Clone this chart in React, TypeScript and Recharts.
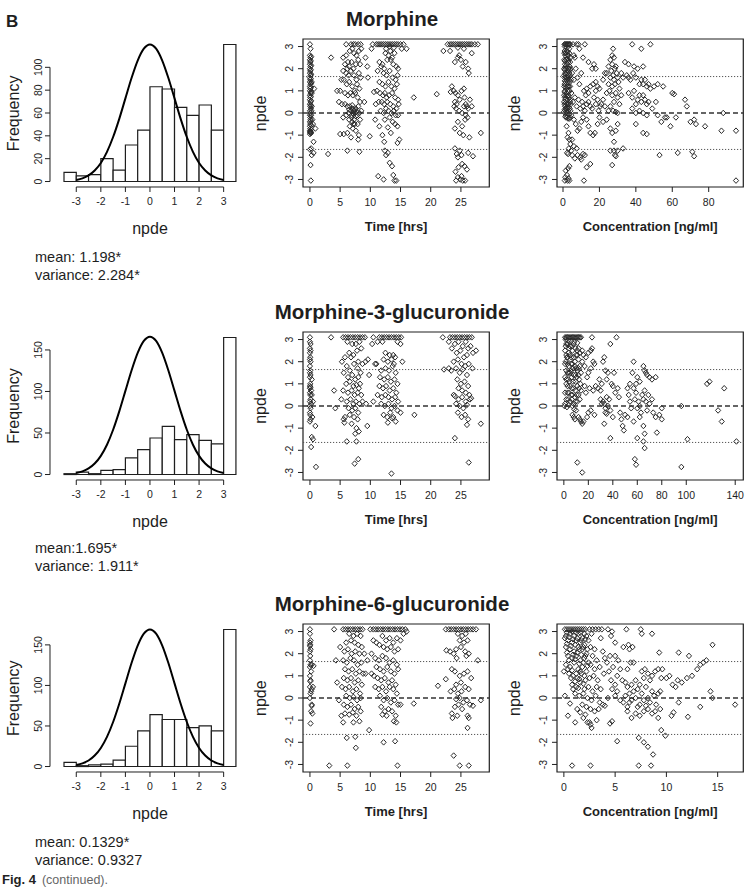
import React from 'react';
import {
  ComposedChart,
  ScatterChart,
  Scatter,
  Line,
  XAxis,
  YAxis,
  ReferenceArea,
  ReferenceLine,
} from 'recharts';

type Pt = [number, number];

const FONT = '"Liberation Sans", Arial, Helvetica, sans-serif';
const INK = '#1e1e1e';

// ---------- histogram data (bins of width 0.5, left edges) ----------
const binStarts = [-3.5, -3, -2.5, -2, -1.5, -1, -0.5, 0, 0.5, 1, 1.5, 2, 2.5, 3];
const morCounts = [8, 5, 6, 20, 10, 32, 45, 83, 81, 65, 58, 67, 45, 120];
const m3gCounts = [1, 3, 1, 5, 6, 20, 30, 44, 58, 42, 48, 41, 37, 165];
const m6gCounts = [5, 1, 2, 3, 8, 25, 44, 64, 58, 58, 48, 50, 44, 169];

// reference N(0,1) curve, scaled to each histogram
const curveX = [-3, -2.75, -2.5, -2.25, -2, -1.75, -1.5, -1.25, -1, -0.75, -0.5, -0.25, 0,
  0.25, 0.5, 0.75, 1, 1.25, 1.5, 1.75, 2, 2.25, 2.5, 2.75, 3];
const morCurve = [1.3, 2.7, 5.3, 9.6, 16.2, 26.0, 39.0, 54.9, 72.8, 90.6, 105.9, 116.3, 120,
  116.3, 105.9, 90.6, 72.8, 54.9, 39.0, 26.0, 16.2, 9.6, 5.3, 2.7, 1.3];
const m3gCurve = [1.8, 3.8, 7.3, 13.2, 22.5, 35.9, 53.9, 76.0, 100.7, 125.3, 146.5, 160.9, 166,
  160.9, 146.5, 125.3, 100.7, 76.0, 53.9, 35.9, 22.5, 13.2, 7.3, 3.8, 1.8];
const m6gCurve = [1.9, 3.9, 7.4, 13.5, 22.9, 36.6, 54.9, 77.4, 102.5, 127.6, 149.1, 163.8, 169,
  163.8, 149.1, 127.6, 102.5, 77.4, 54.9, 36.6, 22.9, 13.5, 7.4, 3.9, 1.9];

// ---------- tick labels ----------
const histTicksX = [-3, -2, -1, 0, 1, 2, 3];
const freqTicksMor = [0, 20, 40, 60, 80, 100];
const freqTicksGluc = [0, 50, 100, 150];
const npdeTicks = [-3, -2, -1, 0, 1, 2, 3];
const timeTicks = [0, 5, 10, 15, 20, 25];
const morConcTicks = [0, 20, 40, 60, 80];
const m3gConcTicks = [0, 20, 40, 60, 80, 100, 140];
const m6gConcTicks = [0, 5, 10, 15];

// ---------- npde vs time / concentration ----------
const morTime: Pt[] = [
  [0,3.1],[0.1,2.9],[0,2.6],[0.1,2.5],[0,2.4],[0.05,2.3],[0,2.2],[0.1,2.1],[0,2.0],[0.05,1.9],[0,1.8],[0.1,1.7],[0,1.6],[0.05,1.5],[0,1.4],[0.1,1.3],[0,1.2],[0.05,1.1],[0,1.0],[0.1,0.9],[0,0.8],[0.05,0.7],[0,0.6],[0.1,0.5],[0,0.4],[0.05,0.3],[0.15,0.2],[0,0.1],[0.1,0.0],[0,-0.1],[0.05,-0.2],[0.1,-0.3],[0,-0.4],[0.05,-0.5],[0,-0.6],[0.05,-0.7],[0,-0.8],[0.05,-0.85],[0.1,-0.9],[0,-0.95],[0.2,-1.6],[0,-1.65],[0.3,-1.9],[0.1,-2.35],[0.15,-3.05],[0.5,-0.5],[0.6,-1.3],[0.7,1.1],[0.9,-0.7],[0.6,-1.8],[0.3,0.9],[0.3,1.4],[0.3,0.3],[0.4,-0.3],
  [0.2,2.55],[0.15,2.35],[0.2,2.15],[0.15,1.95],[0.2,1.75],[0.15,1.55],[0.2,1.35],[0.15,1.15],[0.2,0.95],[0.15,0.75],[0.2,0.55],[0.15,0.35],[0.25,0.1],[0.2,-0.1],[0.15,-0.35],[0.2,-0.55],[0.15,-0.75],[0.2,-0.9],[0.1,-0.82],[0.05,-0.88],
  [3.5,2.5],[3,-1.85],
  [6,3.1],[6.8,3.1],[7.2,3.1],[7.5,3.1],[8,3.1],[8.4,3.1],
  [5.5,2.5],[6,2.6],[6.3,2.3],[6.6,2.8],[7,2.9],[7.3,2.7],[7.7,2.6],[8.1,2.8],[8.5,2.9],[5.8,2.2],[6.2,2.0],[6.5,2.1],[6.9,2.3],[7.2,2.0],[7.6,2.2],[8,2.4],[8.3,2.2],[5.5,1.9],[6,1.8],[6.4,1.7],[6.8,1.9],[7.3,1.7],[7.7,1.5],[8.1,1.8],[8.4,1.6],[5.6,1.5],[6.1,1.3],[6.5,1.4],[7,1.2],[7.4,1.0],[7.8,1.3],[8.2,1.1],[4.5,1.0],[5,1.0],[5.2,1.5],[5.8,0.9],[6.3,0.8],[6.7,0.9],[7.1,0.8],[7.5,0.9],[7.9,0.7],[8.3,0.5],[4.8,0.5],[5.3,0.4],[5.8,0.4],[6.2,0.3],[6.6,0.3],[7,0.2],[7.3,0.1],[7.6,0.2],[8,0.3],[8.5,0.1],[6.4,0.0],[6.9,-0.1],[7.2,-0.05],[7.5,0.0],[7.8,-0.1],[8.2,0.0],[5.5,-0.2],[6,-0.1],[6.5,-0.3],[7,-0.4],[7.4,-0.5],[7.9,-0.5],[8.3,-0.3],[6.6,-0.6],[7.1,-0.7],[7.6,-0.8],[8.1,-1.0],[8,-1.2],[6.2,-0.9],[5.6,-0.95],[5,-0.95],[6.8,-1.1],[6.2,-1.7],[8.2,-1.75],[9,0.5],[9.2,2.5],
  [6.8,0.1],[7.1,0.0],[7.4,0.15],[6.9,-0.2],[7.3,-0.3],[7.6,-0.15],[7.0,0.35],[7.7,0.05],[6.5,0.15],[7.2,-0.5],
  [9.5,2.1],[9.6,1.6],[9.9,-1.05],[10.2,2.9],[10.4,3.1],[10.6,0.95],[10.8,-0.3],[10.9,0.4],
  [11,3.1],[11.3,3.1],[11.6,3.1],[11.9,3.1],[12.2,3.1],[12.5,3.1],[12.8,3.1],[13.1,3.1],[13.4,3.1],[13.7,3.1],[14,3.1],[14.3,3.1],[14.6,3.1],[15,3.1],[15.5,3.1],[13.2,3.0],[12.6,2.9],[13.9,2.95],
  [12.5,2.7],[13,2.6],[13.3,2.8],[13.6,2.5],[14,2.7],[12.8,2.4],[13.4,2.4],[11.5,2.3],[12,2.2],[12.3,2.0],[11.8,2.1],[13.8,2.2],[14.3,2.1],[14.6,2.0],[15.2,2.9],[16,2.9],[11.2,1.9],[12.2,1.8],[12.7,1.7],[13.2,1.9],[13.7,1.6],[14.2,1.5],[14.5,1.7],[11.5,1.4],[12,1.3],[12.5,1.2],[13,1.4],[13.5,1.2],[14,1.1],[14.4,1.3],[11.1,1.0],[11.6,0.9],[12.1,0.8],[12.4,0.9],[12.7,0.7],[13.1,0.8],[13.6,0.9],[14.1,0.7],[14.6,0.6],[11.4,0.5],[11.9,0.5],[12.3,0.4],[12.8,0.5],[13.3,0.4],[13.8,0.3],[14.3,0.2],[14.7,0.4],[11.7,0.1],[12.2,0.0],[12.6,0.2],[13,0.1],[13.5,0.0],[13.9,0.1],[14.2,-0.1],[14.6,-0.1],[12.4,-0.3],[13.2,-0.2],[13.7,-0.4],[14.1,-0.5],[14.5,-0.6],[11.5,-0.6],[12,-1.0],[12.3,-1.3],[12.9,-0.65],[13.4,-0.9],[14.8,-1.2],[14.5,-1.35],[12.4,-1.7],[12.9,-1.8],[12.6,-1.9],[13.2,-2.25],[13.6,-2.4],[11.3,-2.85],[12.2,-3.0],[13.8,-2.8],[14,-3.05],[14.3,-3.05],
  [17.2,0.7],[21,0.85],[22.1,2.8],
  [22.8,3.1],[23.2,3.1],[23.5,3.1],[23.8,3.1],[24.1,3.1],[24.4,3.1],[24.7,3.1],[25,3.1],[25.3,3.1],[25.6,3.1],[25.9,3.1],[26.2,3.1],[26.5,3.1],[26.8,3.1],[27.3,3.1],[27.8,3.1],[24.5,2.95],[25.5,2.9],
  [23.2,2.8],[24,2.3],[24.5,2.5],[25,2.4],[25.3,2.1],[25.8,2.3],[26.2,2.0],[26.3,1.8],[26.8,2.7],[24.7,2.6],[23.5,1.2],[23.3,0.95],[23.8,1.0],[24.1,0.9],[24.5,0.8],[24,0.5],[24.3,0.4],[24.8,0.6],[25.1,1.0],[25.5,1.1],[25.6,0.7],[25.8,0.4],[26,0.3],[26.2,0.2],[25.5,0.3],[25.2,0.0],[24.7,0.1],[24.2,0.2],[23.9,0.3],[26.5,0.6],[26.8,0.3],[25.8,-0.1],[26.1,-0.2],[25.7,-0.3],[24.5,-0.4],[24,-0.7],[25.2,-0.6],[24.8,-0.9],[25.4,-1.0],[26.4,-1.1],[28.3,-0.9],[24,-1.6],[24.3,-1.85],[24.8,-1.7],[25.1,-1.9],[24.5,-2.0],[26.2,-1.8],[27,-1.95],[24.1,-2.65],[24.6,-2.45],[25.2,-2.3],[25.6,-2.4],[26,-2.55],[24.5,-2.9],[24.9,-3.0],[25.3,-3.05],[25.7,-3.05],[24.2,-3.05],[25.1,-2.85],
];

const morConc: Pt[] = [
  [0.8,3.1],[1.2,3.1],[1.6,3.1],[2.0,3.1],[2.4,3.1],[2.8,3.1],[3.2,3.1],[3.6,3.1],[4.0,3.1],[1,3.0],[2.2,2.95],[3.4,2.9],
  [0.9,2.8],[2.1,2.8],[3.5,2.7],[1.3,2.6],[2.6,2.6],[4.0,2.5],[0.7,2.4],[1.8,2.4],[3.1,2.4],[1.1,2.2],[2.4,2.2],[3.7,2.1],[0.6,2.0],[1.6,2.0],[2.9,2.0],[4.2,2.0],[1.2,1.8],[2.3,1.8],[3.5,1.8],[0.8,1.6],[1.9,1.6],[3.0,1.6],[4.4,1.5],[1.4,1.4],[2.6,1.4],[3.8,1.4],[0.7,1.2],[2.0,1.2],[3.2,1.2],[1.1,1.0],[2.4,1.0],[3.6,1.0],[4.6,0.9],[0.6,0.8],[1.7,0.8],[2.9,0.8],[1.3,0.6],[2.5,0.6],[3.8,0.6],[0.8,0.4],[2.0,0.4],[3.1,0.4],[4.3,0.4],[1.5,0.2],[2.6,0.2],[3.7,0.2],[0.5,0.05],[1.2,0.0],[2.2,0.0],[3.4,-0.05],[1.6,-0.2],[2.8,-0.25],[4.0,-0.2],
  [0.7,2.7],[1.5,2.7],[2.5,2.75],[3.0,2.6],[1.0,2.35],[2.2,2.45],[2.9,2.3],[3.9,2.3],[0.9,1.95],[1.4,2.1],[2.6,1.9],[3.3,2.0],[0.6,1.7],[1.5,1.75],[2.8,1.7],[3.9,1.7],[1.0,1.45],[2.2,1.5],[3.3,1.5],[0.9,1.3],[1.6,1.15],[2.7,1.2],[3.9,1.2],[0.8,0.95],[1.9,0.9],[3.1,0.95],[1.0,0.7],[2.2,0.75],[3.4,0.7],[0.6,0.5],[1.6,0.45],[2.7,0.4],[3.9,0.5],[1.1,0.3],[2.3,0.25],[3.2,0.25],[0.9,0.15],[1.8,0.05],[2.9,0.1],[4.1,0.1],[1.3,-0.15],[2.4,-0.2],[3.5,-0.25],[4.5,-0.1],
  [2,-0.6],[3,-0.9],[2.5,-1.1],[3.5,-1.2],[4,-1.4],[3.2,-1.6],[2.2,-1.8],[2.8,-1.85],[1.5,-2.6],[2.8,-2.5],[3.5,-2.4],[1.2,-2.9],[2.2,-2.8],[3,-2.95],[1.0,-3.05],[2.5,-3.05],[3.5,-3.05],
  [5.5,3.1],[6,2.6],[6.5,2.5],[7.5,3.1],[8.5,3.1],[9,2.9],[11,2.5],[12,3.1],[14,2.3],[16,2.0],[17,2.2],[18,2.0],
  [5,1.8],[6,1.5],[7,2.0],[8,1.6],[9,1.3],[10,1.8],[11.5,1.0],[12.5,0.8],[13,1.1],[14,0.9],[15,1.2],[16.5,1.3],[17,0.7],[18,1.0],[19,1.2],[20,1.1],
  [5.5,0.5],[6.5,0.7],[7.5,0.3],[8.5,0.6],[9.5,0.2],[10.5,0.5],[11,0.3],[12,0.1],[13,0.4],[14,0.5],[15,0.3],[16,0.2],[18,0.4],[19.5,0.1],[20.5,0.3],[21,0.4],
  [6,-0.3],[7,-0.5],[8,-0.8],[9,-0.7],[10,-0.4],[11,-0.2],[13,-0.3],[14,-0.6],[15,-0.9],[16.5,-1.0],[17.5,-0.9],[19,-0.5],[20,-0.2],[22,-0.4],
  [5,-1.2],[6,-1.5],[7.5,-1.6],[8,-1.9],[9.5,-2.0],[10,-2.1],[11,-1.85],[12,-1.9],[13,-2.45],[15,-2.3],[11.5,-3.05],[4.5,-1.7],[5,-1.9],[6.5,-2.05],
  [18,1.4],[19,0.6],[22,0.6],[23,0.3],
  [23,1.8],[24,1.8],[25,2.1],[26,2.4],[27,2.6],[28,2.5],[27,2.2],[28.5,2.0],[29,2.1],[26.5,1.9],[27.5,1.7],[28,1.5],[26,1.6],[25,1.3],[27,1.2],[28.5,1.3],[29.5,1.8],[30,1.6],[30.5,1.4],[31,1.1],[32,1.8],[33,1.6],[34,2.3],[35,1.7],[36,1.6],[27,0.8],[28,0.5],[29,0.9],[30,0.7],[31,0.4],[32,0.8],[25,0.1],[26,0.3],[27.5,0.1],[29,0.05],[30,0.0],[24,-0.3],[26,-0.7],[27,-0.9],[28,-1.3],[29,-0.8],[30,-0.5],[28,-1.7],[29,-1.95],[30,-1.7],[27,-2.35],[28.5,-1.9],[33,-1.6],[26,-1.7],[27.5,2.9],[25.5,1.0],[24,0.9],[22,1.5],
  [38,3.1],[43,2.9],[48,3.1],[36,2.2],[39,2.1],[41,2.0],[44,2.1],[37,1.5],[38.5,1.8],[40,1.6],[42,1.3],[43,1.5],[44,1.3],[45,1.5],[46,1.2],[47,1.3],[48,1.1],[50,1.2],[52,1.3],[55,1.2],[36,0.9],[38,0.7],[39,1.0],[40,0.4],[41,0.6],[42,0.8],[43,0.5],[44,0.8],[45,0.6],[46,0.4],[47,0.5],[49,0.2],[51,0.5],[38,0.2],[40,0.0],[42,0.1],[44,0.0],[46,-0.1],[40,-0.5],[44,-0.9],[46,-0.95],[52,-0.1],[54,-0.4],[56,-0.2],[53,-1.9],
  [57,-0.2],[59,-0.6],[60,0.9],[61,0.85],[62,-0.2],[63,-1.8],[67,0.6],[68,0.3],[70,-0.4],[72,-0.3],[73,-0.5],[71,-1.75],[72,-1.95],[78,-0.6],[88,0.0],[87,-0.8],[95,-0.8],[95,-3.05],
];

const m3gTime: Pt[] = [
  [0,3.1],[0,2.9],[0.1,2.8],[0,2.6],[0.1,2.5],[0,2.4],[0.05,2.2],[0,2.1],[0.1,2.0],[0,1.8],[0.05,1.6],[0,1.5],[0.1,1.4],[0,1.3],[0.05,1.0],[0,0.9],[0.1,0.85],[0,0.8],[0.2,0.7],[0,0.6],[0.05,0.5],[0.1,0.3],[0,0.2],[0.2,0.1],[0,0.0],[0.1,-0.1],[0,-0.3],[0.05,-0.4],[0.1,-0.6],[0,-0.7],[0.5,0.2],[0.4,-0.5],[0.9,-0.9],[0.3,-1.4],[0.5,-1.5],[0.2,-1.85],[1.0,-2.75],[0.3,0.5],[0.3,1.2],
  [3.5,3.1],[4,0.7],[4.2,-0.1],
  [5.5,3.1],[5.9,3.1],[6.3,3.1],[6.7,3.1],[7.1,3.1],[7.5,3.1],[7.9,3.1],[8.3,3.1],[8.7,3.1],[9.1,3.1],
  [6.2,2.9],[7,2.8],[7.6,2.8],[8.2,2.9],[8.5,2.6],[6.5,2.4],[7.2,2.3],[7.8,2.5],[5.8,2.2],[6.8,2.2],[8,2.0],[8.7,1.9],[5.3,2.0],[6.1,1.8],[6.6,1.6],[7.3,1.9],[7.9,1.7],[8.4,1.5],[5.6,1.5],[6.3,1.3],[7,1.4],[7.5,1.2],[8,1.3],[8.3,1.0],[6,1.0],[6.6,1.1],[7.2,0.9],[7.7,0.95],[8.1,0.8],[5.5,0.7],[6.3,0.6],[6.9,0.7],[7.4,0.5],[7.9,0.6],[8.5,0.5],[5.2,0.3],[6.1,0.2],[6.7,0.3],[7.2,0.1],[7.6,0.2],[8.2,0.1],[8.7,0.2],[6.4,-0.1],[7,-0.2],[7.5,-0.1],[8,-0.3],[5.8,-0.5],[6.6,-0.4],[7.3,-0.5],[7.9,-0.6],[5.6,-0.6],[5.7,-0.75],[6.9,-0.8],[7.7,-1.0],[8.1,-1.15],[7.5,-1.25],[6.1,-1.6],[7.7,-1.6],[7.4,-2.6],[8,-2.4],[9.2,2.0],[9.3,0.1],
  [9.6,2.1],[9.8,1.4],[9.5,-0.9],[10.5,3.1],[10.8,1.9],[10.3,2.8],[11,1.9],[11.2,2.9],[10.5,0.2],
  [11.5,3.1],[11.9,3.1],[12.3,3.1],[12.7,3.1],[13.1,3.1],[13.5,3.1],[13.9,3.1],[14.3,3.1],[14.7,3.1],[15.1,3.1],
  [12,2.9],[14.5,2.9],[15,2.8],[12.5,2.4],[13.2,2.3],[13.8,2.3],[14.1,2.2],[12.2,2.1],[12.9,2.0],[13.5,2.1],[13.9,1.9],[15.3,2.0],[11.8,1.6],[12.5,1.7],[13.1,1.6],[13.7,1.8],[14.2,1.5],[11.6,1.3],[12.3,1.2],[12.9,1.3],[13.4,1.1],[14,1.2],[14.5,1.0],[11.5,0.9],[12.1,0.8],[12.6,0.9],[13.2,0.7],[13.8,0.8],[14.3,0.6],[11.2,0.5],[11.9,0.4],[12.5,0.5],[13,0.4],[13.6,0.3],[14.1,0.4],[14.6,0.2],[11.8,0.1],[12.4,0.0],[13,0.1],[13.5,-0.1],[14,0.0],[14.5,-0.2],[15,-0.3],[12.2,-0.4],[12.8,-0.5],[13.3,-0.3],[13.8,-0.5],[14.2,-0.7],[12.9,-0.75],[13.6,-0.55],[13.5,-3.05],[17.3,-0.4],
  [22,3.1],[23.2,3.1],[23.6,3.1],[24,3.1],[24.4,3.1],[24.8,3.1],[25.2,3.1],[25.6,3.1],[26,3.1],[26.4,3.1],[26.8,3.1],[23,2.9],
  [24,2.8],[24.6,2.9],[25.3,2.7],[25.8,2.9],[26.2,2.6],[26.6,2.7],[27,2.4],[27.5,2.5],[23.5,2.6],[24.3,2.4],[24.9,2.5],[25.5,2.2],[26,2.3],[23.8,2.0],[24.5,2.1],[25.1,1.9],[25.7,1.8],[26.3,1.9],[22.2,1.65],[23,1.7],[23.4,1.6],[24.2,1.7],[24.8,1.5],[25.3,1.65],[26,1.4],[26.9,1.7],[24.4,1.2],[25,1.0],[25.6,1.1],[26.2,0.9],[24.6,0.8],[25.2,0.7],[25.8,0.6],[26.4,0.5],[24,0.45],[24.6,0.3],[25.2,0.4],[25.8,0.2],[26.5,0.3],[24.2,0.1],[24.8,0.0],[25.4,-0.1],[26,0.05],[24.5,-0.3],[25.1,-0.5],[25.7,-0.4],[26.2,-0.6],[26,-0.85],[24,-1.45],[26.3,-2.55],[28.3,-0.8],[23.8,0.5],[26.7,0.35],
];

const m3gConc: Pt[] = [
  [1,3.1],[2,3.1],[3,3.1],[4,3.1],[5,3.1],[6,3.1],[7,3.1],[8,3.1],[9,3.1],[10,3.1],[11,3.1],[12,3.1],[13,3.1],[14,3.1],[1.5,3.0],[3.5,2.95],[6,2.95],[8.5,2.9],[11,2.85],
  [2,2.8],[5,2.7],[8,2.8],[12,2.6],[15,2.5],[1,2.5],[4,2.4],[7,2.5],[10,2.3],[13,2.4],[16,2.3],[2.5,2.2],[5.5,2.1],[9,2.0],[12,2.1],[15,2.0],[18,2.2],[20,2.4],[1,1.9],[4,1.8],[7,1.9],[10,1.7],[13,1.8],[17,1.8],[2,1.6],[5,1.5],[8,1.4],[11,1.6],[14,1.5],[1,1.3],[3.5,1.2],[6.5,1.3],[9.5,1.1],[12.5,1.2],[2,1.0],[5,0.9],[8,0.8],[11,0.9],[14,0.7],[1,0.6],[3,0.6],[6,0.5],[9,0.4],[12,0.5],[2,0.3],[5,0.2],[8,0.1],[11,0.2],[13,0.3],[0.5,0.0],[1,0.1],[2.5,-0.05],[10,-0.2],[12,-0.5],[13,-0.6],[14,-0.7],[15,-0.8],[9,-0.6],[7,-0.4],[8,-0.5],
  [1.5,2.7],[3,2.8],[4.5,2.6],[6.5,2.7],[9.5,2.6],[11,2.5],[2,2.3],[3,2.2],[5,2.3],[6,2.2],[8,2.2],[11,2.3],[1.5,2.0],[3,1.9],[6,1.9],[7.5,1.7],[9,1.8],[12,1.7],[3,1.5],[4,1.5],[6,1.6],[9.5,1.4],[12,1.4],[2,1.2],[4.5,1.1],[7.5,1.1],[10.5,1.3],[13.5,1.0],[3,0.9],[6.5,0.8],[9.5,0.7],[12.5,0.8],[4,0.6],[7,0.5],[10.5,0.5],[3.5,0.3],[6.5,0.3],[9.5,0.2],[4,0.05],[7,0.0],[8.5,-0.15],
  [23,3.1],[22,2.5],[23,2.6],[24,2.0],[25,1.9],[22,1.7],[20,1.5],[19,1.3],[17,0.9],[18,0.6],[21,0.8],[24,0.7],[26,0.9],[28,0.8],[30,0.7],[29,1.2],[31,1.0],[32,2.0],[33,2.2],[34,1.6],[35,1.2],[36,1.5],[38,2.8],[43,3.1],[41,1.5],[39,1.0],[40,0.9],[42,0.6],[44,0.8],[30,0.3],[31,0.1],[32,0.2],[33,0.1],[34,-0.1],[35,0.4],[36,0.0],[37,0.3],[38,-0.2],[40,-0.5],[33,-0.8],[34,-0.3],[35,-0.35],[25,-0.4],[22,-0.2],[19,-0.5],[16,-0.7],[20,-0.3],[38,-1.45],[11,-2.55],[15,-3.0],
  [45,0.4],[46,-0.3],[47,-0.6],[48,-0.9],[49,-1.1],[50,-0.4],[52,-0.5],[53,0.5],[54,0.2],[55,-0.1],[56,1.5],[57,2.0],[57,0.8],[58,0.3],[59,0.6],[60,-0.1],[61,0.2],[62,0.0],[63,-0.3],[64,0.5],[65,0.3],[66,0.7],[67,0.2],[68,-0.2],[69,0.5],[70,0.1],[72,0.3],[73,-0.3],[75,-0.5],[78,-0.4],[80,-0.1],[80,-0.6],[59,1.0],[60,1.3],[62,1.1],[65,1.8],[66,1.6],[67,1.5],[68,1.4],[70,1.3],[72,1.2],[75,1.3],[54,1.0],[52,0.8],[57,-0.7],[60,-1.45],[62,-0.5],[65,-0.9],[66,-1.25],[65,-1.6],[66,-1.9],[76,-1.2],[58,-2.4],[59,-2.65],
  [96,0.0],[96,-2.75],[101,-1.5],[117,1.0],[119,1.1],[126,-0.2],[129,-0.7],[131,0.8],[141,-1.6],
];

const m6gTime: Pt[] = [
  [0,3.1],[0,2.9],[0.1,2.6],[0,2.5],[0.05,2.4],[0,2.35],[0.1,2.2],[0,2.1],[0.05,1.9],[0,1.7],[0.1,1.5],[0,1.4],[0.3,1.5],[0.2,1.2],[0,1.0],[0.1,0.8],[0.05,0.75],[0,0.5],[0.3,0.4],[0.2,0.3],[0.1,0.2],[0,0.0],[0.3,-0.3],[0.2,-0.6],[0.4,-0.7],[0.3,-0.35],[0.1,-1.15],[0.6,1.45],[0.5,0.5],
  [3.2,-3.05],[4,3.1],[4.3,1.7],[4.5,0.7],[4.8,-0.1],[5,2.3],[5.2,-0.8],
  [5.5,3.1],[5.9,3.1],[6.3,3.1],[6.7,3.1],[7.1,3.1],[7.5,3.1],[7.9,3.1],[8.3,3.1],[8.7,3.1],
  [6.5,2.9],[7.2,2.8],[7.8,2.9],[8.4,2.8],[6,2.5],[6.8,2.6],[7.4,2.5],[8,2.4],[8.6,2.3],[5.7,2.1],[6.3,2.2],[6.9,2.0],[7.5,2.1],[8.2,2.0],[5.5,1.7],[6.1,1.6],[6.7,1.8],[7.3,1.7],[7.9,1.5],[8.5,1.6],[5.8,1.3],[6.4,1.2],[7,1.3],[7.6,1.1],[8.2,1.2],[8.8,1.1],[9.2,1.1],[5.6,0.9],[6.2,0.8],[6.8,0.9],[7.4,0.7],[8,0.8],[8.6,0.6],[5.3,0.5],[5.9,0.4],[6.5,0.5],[7.1,0.3],[7.7,0.4],[8.3,0.2],[6,0.1],[6.6,0.0],[7.2,0.05],[7.8,-0.1],[8.4,0.0],[5.6,-0.3],[6.2,-0.4],[6.8,-0.3],[7.4,-0.5],[8,-0.4],[8.4,-0.6],[5.8,-0.7],[6.5,-0.75],[7.1,-0.65],[7.7,-0.8],[5.5,-1.1],[7.2,-1.1],[8.2,-1.05],[6.1,-1.8],[7.5,-1.75],[7.6,-2.25],[6.2,-3.05],[9.5,1.7],[9.8,-1.45],[9,2.0],
  [10,3.1],[10.5,3.1],[10.9,3.1],[11.3,3.1],[11.7,3.1],[12.1,3.1],[12.5,3.1],[12.9,3.1],[13.3,3.1],[13.7,3.1],[14.1,3.1],[14.5,3.1],[14.9,3.1],[15.3,3.1],[15.8,3.1],
  [10.5,2.6],[11,2.5],[11.5,2.4],[12,2.8],[12.6,2.6],[13.2,2.7],[13.8,2.5],[14.4,2.7],[15,2.6],[15.5,2.9],[12.2,2.3],[12.8,2.2],[13.4,2.3],[14,2.1],[14.6,2.2],[10.2,2.0],[10.8,1.8],[11.4,1.7],[12,1.9],[12.6,1.8],[13.2,1.6],[13.8,1.7],[14.4,1.5],[11,1.4],[11.6,1.3],[12.2,1.2],[12.8,1.4],[13.4,1.2],[14,1.1],[14.6,1.3],[10.6,1.0],[11.2,0.9],[11.8,0.8],[12.4,0.9],[13,0.7],[13.6,0.8],[14.2,0.6],[10.8,0.5],[11.4,0.4],[12,0.5],[12.6,0.3],[13.2,0.5],[13.8,0.4],[14.4,0.2],[11.6,0.1],[12.2,-0.1],[12.8,0.0],[13.4,-0.2],[14,-0.1],[14.6,-0.3],[11.8,-0.4],[12.4,-0.6],[13,-0.5],[13.6,-0.6],[14.2,-0.8],[15,-0.3],[12,-0.75],[12.7,-0.8],[13.9,-1.05],[14.3,-1.1],[12.2,-2.0],[14.1,-1.95],[14.5,-3.05],[10.2,1.1],[17.2,-0.25],[16,3.0],
  [22.5,3.1],[23,3.1],[23.4,3.1],[23.8,3.1],[24.2,3.1],[24.6,3.1],[25,3.1],[25.4,3.1],[25.8,3.1],[26.2,3.1],[26.6,3.1],[27,3.1],[27.5,3.1],
  [24.5,2.9],[25.2,2.8],[25.8,2.9],[24.8,2.6],[25.5,2.5],[26.1,2.6],[24.2,2.2],[25,2.3],[25.7,2.1],[22.6,2.15],[23.2,2.1],[23.8,2.0],[24.3,1.8],[25.9,1.9],[26.3,2.0],[27.8,1.7],[23.5,1.3],[24,1.2],[24.8,1.0],[25.5,1.1],[26.1,1.2],[26.7,0.9],[21.2,0.55],[22.5,0.85],[23.3,0.3],[23.9,0.4],[24.5,0.2],[25.1,0.3],[25.7,0.5],[26.3,0.4],[24.2,-0.05],[24.8,0.0],[25.4,-0.2],[26,-0.1],[26.5,-0.3],[27,-0.35],[24,-0.4],[24.6,-0.3],[25.2,-0.5],[23.5,-0.7],[23.6,-0.9],[24.4,-0.8],[26.1,-0.8],[26.3,-0.9],[26.1,-1.35],[28.3,-0.1],[23.8,-2.6],[24.8,-3.05],[26.3,-3.05],[25,0.7],[24.2,0.6],
];

const m6gConc: Pt[] = [
  [0.1,3.1],[0.3,3.1],[0.5,3.1],[0.7,3.1],[0.9,3.1],[1.1,3.1],[1.3,3.1],[1.5,3.1],[1.7,3.1],[1.9,3.1],[2.1,3.1],[2.5,3.1],[2.8,3.1],[3.1,3.1],[3.4,3.1],[3.7,3.1],[4.3,3.1],[4.7,3.0],[6.1,3.1],[7.5,3.1],[7.6,2.9],[8.6,2.9],
  [0.2,2.8],[0.6,2.9],[1,2.8],[1.4,2.9],[1.8,2.7],[2.2,2.8],[0.4,2.6],[0.8,2.5],[1.2,2.6],[1.6,2.5],[2,2.4],[2.4,2.6],[0.2,2.3],[0.6,2.2],[1,2.1],[1.4,2.3],[1.8,2.2],[2.2,2.0],[2.6,2.3],[3,2.2],[0.4,1.9],[0.8,1.8],[1.2,1.9],[1.6,1.7],[2,1.8],[2.4,1.6],[2.8,1.9],[3.2,1.7],[0.2,1.5],[0.6,1.4],[1,1.6],[1.4,1.3],[1.8,1.4],[2.2,1.2],[2.6,1.5],[3,1.3],[0,1.2],[0.5,1.1],[0.9,1.0],[1.3,0.9],[1.7,1.1],[2.1,0.8],[2.5,0.9],[2.9,1.0],[3.3,0.8],[0.8,0.6],[1.2,0.5],[1.6,0.7],[2,0.4],[2.4,0.5],[2.8,0.3],[3.2,0.5],[3.6,0.4],[1.1,0.2],[1.5,0.1],[1.9,0.2],[2.3,0.0],[2.7,-0.1],[3.1,0.1],[3.5,-0.2],[1.8,-0.3],[2.2,-0.4],[2.6,-0.5],[3,-0.6],[3.4,-0.5],[3.8,-0.3],[4,-0.35],[1.3,-0.5],[1.6,-0.65],[2.1,-0.75],[2.5,-1.1],[2.6,-1.2],[3.2,-1.0],[2.7,-1.35],[0.4,-0.8],[0.1,0.1],[0.6,-0.25],[2.7,2.9],[3.6,2.7],[3.8,2.1],[4,1.8],[3.5,1.4],[4.2,1.6],[4.5,1.9],[4.4,1.2],[3.9,1.1],
  [0.3,2.95],[0.8,3.0],[1.2,2.95],[1.6,2.95],[2.0,2.9],[0.1,2.7],[0.5,2.75],[0.9,2.65],[1.3,2.7],[1.7,2.6],[2.1,2.65],[0.3,2.45],[0.7,2.35],[1.1,2.4],[1.5,2.2],[1.9,2.3],[2.3,2.2],[0.3,2.05],[0.9,1.95],[1.3,2.05],[1.7,1.95],[2.1,1.9],[0.5,1.7],[1.1,1.75],[1.5,1.55],[1.9,1.6],[2.3,1.45],[0.4,1.3],[0.8,1.25],[1.2,1.1],[1.6,1.2],[2.0,1.0],[0.7,0.9],[1.1,0.75],[1.5,0.85],[1.9,0.65],[0.9,0.4],[1.4,0.45],
  [4.6,2.8],[5,2.5],[5,1.9],[5.3,1.7],[4.8,1.4],[5.2,1.0],[4.6,0.8],[5.5,1.3],[5,0.6],[4.7,0.4],[5.2,0.3],[5.7,0.8],[6,0.7],[6.2,1.3],[6.5,1.6],[6.3,2.4],[6.4,2.2],[6.7,2.3],[5.8,2.3],[6.8,1.6],[4.3,0.0],[4.5,-1.15],[4.7,-1.05],[5.2,-1.95],[5,0.1],
  [5.5,-0.1],[5.8,-0.2],[6,0.1],[6.2,-0.4],[6.4,0.2],[6.6,-0.1],[6.8,0.3],[7,0.0],[7.2,0.4],[7.4,-0.3],[7.6,0.2],[7.8,-0.1],[8,0.5],[8.2,0.0],[8.4,-0.2],[8.6,0.3],[8.8,0.1],[9,-0.3],[9.2,0.2],[9.4,0.3],[6.2,0.5],[6.6,0.6],[7,0.8],[7.4,0.6],[7.8,0.9],[8.2,1.1],[8.6,1.0],[7.6,1.2],[7.9,1.3],[8.4,0.8],[8.9,1.2],[9.2,1.3],[9.5,0.9],[6.2,-0.6],[6.6,-0.9],[7,-0.7],[7.4,-0.8],[7.8,-0.6],[8.2,-0.5],[8.6,-0.7],[8.9,-0.6],[9.2,-0.9],[9.4,-0.5],[6.4,-0.2],[7.2,-0.4],[8,-0.35],
  [7.3,-1.8],[7.8,-2.0],[8.2,-2.2],[8.7,-2.55],[7.3,-3.05],[8.5,-3.05],[9.5,-1.45],[9.9,-1.7],[9.3,2.05],[9.6,1.3],[10,0.9],
  [10.3,1.0],[10.6,0.6],[10.9,0.5],[11.1,0.8],[10.5,-0.8],[10.7,-0.65],[11.2,2.05],[11.2,-0.2],[11.5,0.7],[12,0.9],[12.2,1.9],[12.1,-0.85],[12.5,1.0],[13,1.3],[13.3,1.5],[13.6,1.6],[13.9,1.7],[13.3,-0.4],[14.3,0.3],[14.5,2.4],[14.5,0.0],[16.7,-0.3],[0.8,-3.05],[2.6,-3.05],[1.1,-1.1],[2.3,-1.1],[1.9,-0.9],
];

// ---------- layout ----------
const ROW_TOP = [39.4, 332, 624.2];
const PLOT_H = 148;
const ML = 40;
const MT = 6;
const MR = 6;
const MB = 30;
const HIST_LEFT = 50;
const HIST_W = 193.3;
const HIST_XD: [number, number] = [-4.07, 3.8];
const MID_LEFT = 303;
const RIGHT_LEFT = 557;
const SC_W = 186.3;
const NPDE_D: [number, number] = [-3.34, 3.34];
const Q95 = 1.645;

const tickStyle = { fill: INK, fontSize: 10.5, fontFamily: FONT };

function YTick(props: any) {
  const { x, y, payload } = props;
  return (
    <text
      x={x}
      y={y}
      transform={`rotate(-90 ${x} ${y})`}
      textAnchor="middle"
      fontSize={10.5}
      fill={INK}
      fontFamily={FONT}
    >
      {payload.value}
    </text>
  );
}

function Diamond(props: any) {
  const { cx, cy } = props;
  if (cx == null || cy == null) return null;
  return (
    <path
      d={`M${cx} ${cy - 2.8}L${cx + 2.6} ${cy}L${cx} ${cy + 2.8}L${cx - 2.6} ${cy}Z`}
      fill="none"
      stroke="#2b2b2b"
      strokeWidth={1}
    />
  );
}

type HistProps = {
  top: number;
  counts: number[];
  curve: number[];
  yDomain: [number, number];
  yTicks: number[];
};

function HistPanel({ top, counts, curve, yDomain, yTicks }: HistProps) {
  const data = curveX.map((x, i) => ({ x, y: curve[i] }));
  return (
    <div style={{ position: 'absolute', left: HIST_LEFT - ML, top: top - MT }}>
      <ComposedChart
        width={ML + HIST_W + MR}
        height={MT + PLOT_H + MB}
        data={data}
        margin={{ top: MT, right: MR, bottom: 0, left: 0 }}
      >
        <XAxis
          type="number"
          dataKey="x"
          domain={HIST_XD}
          allowDataOverflow
          ticks={histTicksX}
          interval={0}
          axisLine={false}
          tickLine={{ stroke: INK }}
          tickSize={5}
          tickMargin={6}
          tick={tickStyle}
          height={MB}
        />
        <YAxis
          type="number"
          domain={yDomain}
          allowDataOverflow
          ticks={yTicks}
          interval={0}
          axisLine={false}
          tickLine={{ stroke: INK }}
          tickSize={5}
          tickMargin={3}
          tick={YTick}
          width={ML}
        />
        {binStarts.map((b, i) => (
          <ReferenceArea
            key={i}
            x1={b}
            x2={b + 0.5}
            y1={0}
            y2={counts[i]}
            fill="#ffffff"
            fillOpacity={1}
            stroke={INK}
            strokeWidth={1.2}
            ifOverflow="visible"
          />
        ))}
        <ReferenceLine
          segment={[{ x: histTicksX[0], y: yDomain[0] }, { x: histTicksX[histTicksX.length - 1], y: yDomain[0] }]}
          stroke={INK}
          strokeWidth={1}
          ifOverflow="visible"
        />
        <ReferenceLine
          segment={[{ x: HIST_XD[0], y: yTicks[0] }, { x: HIST_XD[0], y: yTicks[yTicks.length - 1] }]}
          stroke={INK}
          strokeWidth={1}
          ifOverflow="visible"
        />
        <Line
          type="monotone"
          dataKey="y"
          stroke="#000"
          strokeWidth={2}
          dot={false}
          isAnimationActive={false}
        />
      </ComposedChart>
    </div>
  );
}

type ScatterProps = {
  left: number;
  top: number;
  points: Pt[];
  xDomain: [number, number];
  xTicks: number[];
};

function ScatterPanel({ left, top, points, xDomain, xTicks }: ScatterProps) {
  const data = points.map(([x, y]) => ({ x, y }));
  return (
    <div style={{ position: 'absolute', left: left - ML, top: top - MT }}>
      <ScatterChart
        width={ML + SC_W + MR}
        height={MT + PLOT_H + MB}
        margin={{ top: MT, right: MR, bottom: 0, left: 0 }}
      >
        <XAxis
          type="number"
          dataKey="x"
          domain={xDomain}
          allowDataOverflow
          ticks={xTicks}
          interval={0}
          axisLine={false}
          tickLine={{ stroke: INK }}
          tickSize={5}
          tickMargin={7}
          tick={tickStyle}
          height={MB}
        />
        <YAxis
          type="number"
          dataKey="y"
          domain={NPDE_D}
          allowDataOverflow
          ticks={npdeTicks}
          interval={0}
          axisLine={false}
          tickLine={{ stroke: INK }}
          tickSize={5}
          tickMargin={5}
          tick={YTick}
          width={ML}
        />
        <ReferenceLine y={0} stroke="#333" strokeWidth={1.4} strokeDasharray="5 3" />
        <ReferenceLine y={Q95} stroke="#555" strokeWidth={1} strokeDasharray="1.2 1.8" />
        <ReferenceLine y={-Q95} stroke="#555" strokeWidth={1} strokeDasharray="1.2 1.8" />
        <Scatter data={data} shape={Diamond} isAnimationActive={false} />
        <ReferenceArea
          x1={xDomain[0]}
          x2={xDomain[1]}
          y1={NPDE_D[0]}
          y2={NPDE_D[1]}
          fill="none"
          stroke={INK}
          strokeWidth={1.2}
          ifOverflow="visible"
        />
      </ScatterChart>
    </div>
  );
}

const titles = ['Morphine', 'Morphine-3-glucuronide', 'Morphine-6-glucuronide'];
const statLines = [
  ['mean: 1.198*', 'variance: 2.284*'],
  ['mean:1.695*', 'variance: 1.911*'],
  ['mean: 0.1329*', 'variance: 0.9327'],
];
const statBaselines = [262, 552.5, 846.5];

export default function App() {
  const txt = { fontFamily: FONT, fill: INK } as const;
  return (
    <div
      style={{
        position: 'absolute',
        left: 0,
        top: 0,
        width: 752,
        height: 893,
        background: '#ffffff',
        overflow: 'hidden',
      }}
    >
      <HistPanel top={ROW_TOP[0]} counts={morCounts} curve={morCurve} yDomain={[-4.8, 124.8]} yTicks={freqTicksMor} />
      <HistPanel top={ROW_TOP[1]} counts={m3gCounts} curve={m3gCurve} yDomain={[-6.6, 171.6]} yTicks={freqTicksGluc} />
      <HistPanel top={ROW_TOP[2]} counts={m6gCounts} curve={m6gCurve} yDomain={[-6.76, 175.76]} yTicks={freqTicksGluc} />

      <ScatterPanel left={MID_LEFT} top={ROW_TOP[0]} points={morTime} xDomain={[-1.15, 29.7]} xTicks={timeTicks} />
      <ScatterPanel left={MID_LEFT} top={ROW_TOP[1]} points={m3gTime} xDomain={[-1.15, 29.7]} xTicks={timeTicks} />
      <ScatterPanel left={MID_LEFT} top={ROW_TOP[2]} points={m6gTime} xDomain={[-1.15, 29.7]} xTicks={timeTicks} />

      <ScatterPanel left={RIGHT_LEFT} top={ROW_TOP[0]} points={morConc} xDomain={[-3.3, 99]} xTicks={morConcTicks} />
      <ScatterPanel left={RIGHT_LEFT} top={ROW_TOP[1]} points={m3gConc} xDomain={[-5.6, 146.6]} xTicks={m3gConcTicks} />
      <ScatterPanel left={RIGHT_LEFT} top={ROW_TOP[2]} points={m6gConc} xDomain={[-0.67, 17.5]} xTicks={m6gConcTicks} />

      <svg
        width={752}
        height={893}
        style={{ position: 'absolute', left: 0, top: 0, pointerEvents: 'none' }}
      >
        <text x={6} y={27} fontSize={17} fontWeight="bold" {...txt}>B</text>
        {ROW_TOP.map((top, r) => {
          const mid = top + PLOT_H / 2;
          return (
            <g key={r}>
              <text x={392} y={top - 13} fontSize={20.5} fontWeight="bold" textAnchor="middle" {...txt}>
                {titles[r]}
              </text>
              <text x={19} y={mid} fontSize={16} textAnchor="middle" transform={`rotate(-90 19 ${mid})`} {...txt}>
                Frequency
              </text>
              <text x={150} y={top + 195} fontSize={16} textAnchor="middle" {...txt}>npde</text>
              <text x={MID_LEFT - 37} y={mid} fontSize={16} textAnchor="middle" transform={`rotate(-90 ${MID_LEFT - 37} ${mid})`} {...txt}>
                npde
              </text>
              <text x={RIGHT_LEFT - 37} y={mid} fontSize={16} textAnchor="middle" transform={`rotate(-90 ${RIGHT_LEFT - 37} ${mid})`} {...txt}>
                npde
              </text>
              <text x={MID_LEFT + SC_W / 2} y={top + 192} fontSize={13} fontWeight="bold" textAnchor="middle" {...txt}>
                Time [hrs]
              </text>
              <text x={RIGHT_LEFT + SC_W / 2} y={top + 192} fontSize={13} fontWeight="bold" textAnchor="middle" {...txt}>
                Concentration [ng/ml]
              </text>
              <text x={35} y={statBaselines[r]} fontSize={14.5} {...txt}>{statLines[r][0]}</text>
              <text x={35} y={statBaselines[r] + 18} fontSize={14.5} {...txt}>{statLines[r][1]}</text>
            </g>
          );
        })}
        <text x={2} y={884} fontFamily={FONT}>
          <tspan fontSize={13} fontWeight="bold" fill="#222">Fig. 4</tspan>
          <tspan dx={6} fontSize={12.5} fill="#666">(continued).</tspan>
        </text>
      </svg>
    </div>
  );
}
